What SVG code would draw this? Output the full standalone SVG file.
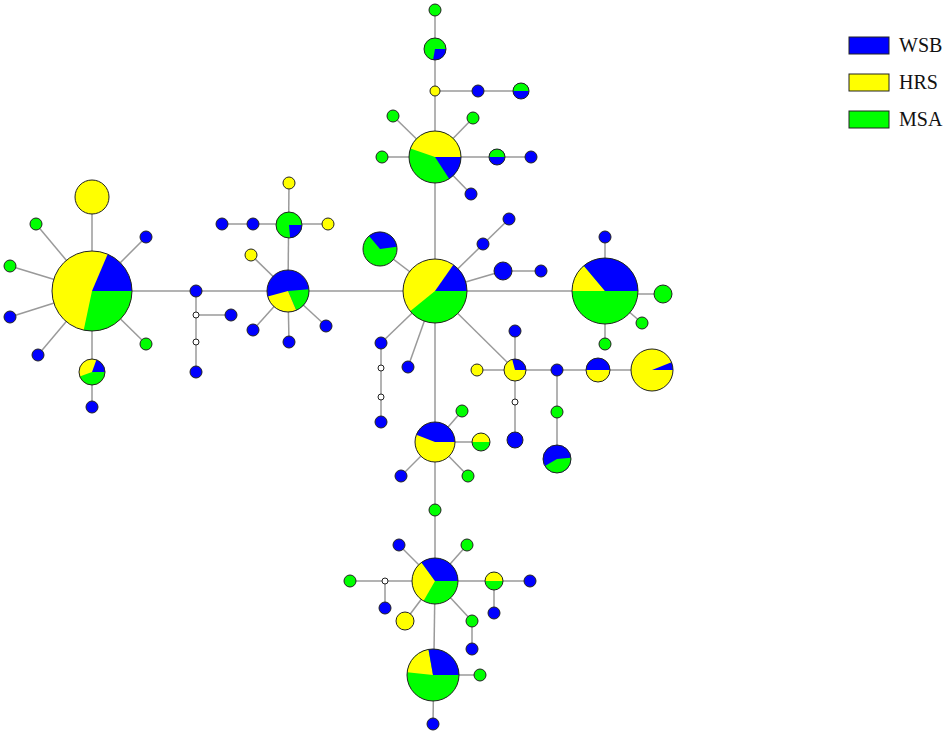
<svg xmlns="http://www.w3.org/2000/svg" width="950" height="737" viewBox="0 0 950 737">
<style>
.ln{stroke:#9a9a9a;stroke-width:1.5;fill:none}
.b{fill:#0000ff}
.y{fill:#ffff00}
.g{fill:#00ff00}
.w{fill:#ffffff}
.n{stroke:#222;stroke-width:1}
.o{fill:none;stroke:#222;stroke-width:1}
.t{font-family:"Liberation Serif","Times New Roman",serif;font-size:20px;fill:#111}
</style>
<rect width="950" height="737" fill="#ffffff"/>
<g id="connectors">
<line class="ln" x1="92" y1="291" x2="605" y2="291"/>
<line class="ln" x1="92" y1="291" x2="92" y2="197"/>
<line class="ln" x1="92" y1="291" x2="36" y2="224"/>
<line class="ln" x1="92" y1="291" x2="10" y2="266"/>
<line class="ln" x1="92" y1="291" x2="10" y2="317"/>
<line class="ln" x1="92" y1="291" x2="38" y2="355"/>
<line class="ln" x1="92" y1="291" x2="146" y2="237"/>
<line class="ln" x1="92" y1="291" x2="146" y2="344"/>
<line class="ln" x1="92" y1="291" x2="92" y2="407"/>
<line class="ln" x1="196" y1="291" x2="196" y2="372"/>
<line class="ln" x1="196" y1="315" x2="231" y2="315"/>
<line class="ln" x1="288" y1="291" x2="289" y2="183"/>
<line class="ln" x1="222" y1="224" x2="328" y2="224"/>
<line class="ln" x1="288" y1="291" x2="251" y2="255"/>
<line class="ln" x1="288" y1="291" x2="253" y2="330"/>
<line class="ln" x1="288" y1="291" x2="289" y2="342"/>
<line class="ln" x1="288" y1="291" x2="326" y2="326"/>
<line class="ln" x1="435" y1="10" x2="435" y2="581"/>
<line class="ln" x1="435" y1="581" x2="433" y2="724"/>
<line class="ln" x1="435" y1="91" x2="521" y2="91"/>
<line class="ln" x1="435" y1="157" x2="382" y2="157"/>
<line class="ln" x1="435" y1="157" x2="393" y2="116"/>
<line class="ln" x1="435" y1="157" x2="473" y2="118"/>
<line class="ln" x1="435" y1="157" x2="531" y2="157"/>
<line class="ln" x1="435" y1="157" x2="471" y2="194"/>
<line class="ln" x1="435" y1="291" x2="380" y2="249"/>
<line class="ln" x1="435" y1="291" x2="509" y2="219"/>
<line class="ln" x1="435" y1="291" x2="503" y2="271"/>
<line class="ln" x1="503" y1="271" x2="541" y2="271"/>
<line class="ln" x1="435" y1="291" x2="381" y2="343"/>
<line class="ln" x1="381" y1="343" x2="381" y2="422"/>
<line class="ln" x1="435" y1="291" x2="408" y2="367"/>
<line class="ln" x1="435" y1="291" x2="515" y2="370"/>
<line class="ln" x1="605" y1="291" x2="605" y2="237"/>
<line class="ln" x1="605" y1="294" x2="663" y2="294"/>
<line class="ln" x1="605" y1="291" x2="642" y2="323"/>
<line class="ln" x1="605" y1="291" x2="605" y2="344"/>
<line class="ln" x1="477" y1="370" x2="652" y2="370"/>
<line class="ln" x1="515" y1="331" x2="515" y2="440"/>
<line class="ln" x1="557" y1="370" x2="557" y2="459"/>
<line class="ln" x1="435" y1="442" x2="462" y2="411"/>
<line class="ln" x1="435" y1="442" x2="481" y2="442"/>
<line class="ln" x1="435" y1="442" x2="401" y2="476"/>
<line class="ln" x1="435" y1="442" x2="468" y2="476"/>
<line class="ln" x1="435" y1="581" x2="399" y2="545"/>
<line class="ln" x1="435" y1="581" x2="467" y2="545"/>
<line class="ln" x1="350" y1="581" x2="530" y2="581"/>
<line class="ln" x1="385" y1="581" x2="385" y2="608"/>
<line class="ln" x1="494" y1="581" x2="494" y2="613"/>
<line class="ln" x1="435" y1="581" x2="405" y2="621"/>
<line class="ln" x1="435" y1="581" x2="472" y2="621"/>
<line class="ln" x1="472" y1="621" x2="472" y2="649"/>
<line class="ln" x1="433" y1="675" x2="480" y2="675"/>
</g>
<g id="node-A">
<circle class="y" cx="92" cy="291" r="40"/>
<path class="b" d="M92,291 L107.63,254.18 A40,40 0 0 1 132,291 Z"/>
<path class="g" d="M92,291 L132,291 A40,40 0 0 1 83.68,330.13 Z"/>
<circle class="o" cx="92" cy="291" r="40"/>
</g>
<g id="node-A-top"><circle class="y n" cx="92" cy="197" r="17"/></g>
<g id="node-A1"><circle class="g n" cx="36" cy="224" r="6"/></g>
<g id="node-A2"><circle class="g n" cx="10" cy="266" r="6"/></g>
<g id="node-A3"><circle class="b n" cx="10" cy="317" r="6"/></g>
<g id="node-A4"><circle class="b n" cx="38" cy="355" r="6"/></g>
<g id="node-A5"><circle class="b n" cx="146" cy="237" r="6"/></g>
<g id="node-A6"><circle class="g n" cx="146" cy="344" r="6"/></g>
<g id="node-A-low">
<circle class="y" cx="92" cy="372" r="13"/>
<path class="b" d="M92,372 L96.45,359.78 A13,13 0 0 1 105,372 Z"/>
<path class="g" d="M92,372 L105,372 A13,13 0 0 1 79.78,376.45 Z"/>
<circle class="o" cx="92" cy="372" r="13"/>
</g>
<g id="node-A-low2"><circle class="b n" cx="92" cy="407" r="6"/></g>
<g id="node-L1"><circle class="b n" cx="196" cy="291" r="6"/></g>
<g id="node-L2"><circle class="w n" cx="196" cy="315" r="3"/></g>
<g id="node-L3"><circle class="b n" cx="231" cy="315" r="6"/></g>
<g id="node-L4"><circle class="w n" cx="196" cy="342" r="3"/></g>
<g id="node-L5"><circle class="b n" cx="196" cy="372" r="6"/></g>
<g id="node-B">
<circle class="b" cx="288" cy="291" r="21"/>
<path class="g" d="M288,291 L308.92,289.17 A21,21 0 0 1 296.2,310.33 Z"/>
<path class="y" d="M288,291 L296.2,310.33 A21,21 0 0 1 267.72,296.43 Z"/>
<circle class="o" cx="288" cy="291" r="21"/>
</g>
<g id="node-B-top">
<circle class="g" cx="289" cy="225" r="13"/>
<path class="b" d="M289,225 L302,225 A13,13 0 0 1 290.13,237.95 Z"/>
<circle class="o" cx="289" cy="225" r="13"/>
</g>
<g id="node-B1"><circle class="y n" cx="289" cy="183" r="6"/></g>
<g id="node-B2"><circle class="y n" cx="328" cy="224" r="6"/></g>
<g id="node-B3"><circle class="b n" cx="253" cy="224" r="6"/></g>
<g id="node-B4"><circle class="b n" cx="222" cy="224" r="6"/></g>
<g id="node-B5"><circle class="y n" cx="251" cy="255" r="6"/></g>
<g id="node-B6"><circle class="b n" cx="253" cy="330" r="6"/></g>
<g id="node-B7"><circle class="b n" cx="289" cy="342" r="6"/></g>
<g id="node-B8"><circle class="b n" cx="326" cy="326" r="6"/></g>
<g id="node-C">
<circle class="y" cx="435" cy="291" r="32"/>
<path class="b" d="M435,291 L453.35,264.79 A32,32 0 0 1 467,291 Z"/>
<path class="g" d="M435,291 L467,291 A32,32 0 0 1 410.13,311.14 Z"/>
<circle class="o" cx="435" cy="291" r="32"/>
</g>
<g id="node-E">
<circle class="g" cx="435" cy="157" r="26"/>
<path class="y" d="M435,157 L410.42,148.53 A26,26 0 0 1 461,157 Z"/>
<path class="b" d="M435,157 L461,157 A26,26 0 0 1 449.16,178.81 Z"/>
<circle class="o" cx="435" cy="157" r="26"/>
</g>
<g id="node-E1"><circle class="y n" cx="435" cy="91" r="5"/></g>
<g id="node-E2">
<circle class="g" cx="435" cy="49" r="11"/>
<path class="b" d="M435,49 L446,49 A11,11 0 0 1 433.09,59.83 Z"/>
<circle class="o" cx="435" cy="49" r="11"/>
</g>
<g id="node-E3"><circle class="g n" cx="435" cy="10" r="6"/></g>
<g id="node-E4"><circle class="b n" cx="478" cy="91" r="6"/></g>
<g id="node-E5">
<circle class="b" cx="521" cy="91" r="8"/>
<path class="g" d="M513,91 A8,8 0 0 1 529,91 Z"/>
<circle class="o" cx="521" cy="91" r="8"/>
</g>
<g id="node-E6"><circle class="g n" cx="382" cy="157" r="6"/></g>
<g id="node-E7"><circle class="g n" cx="393" cy="116" r="6"/></g>
<g id="node-E8"><circle class="g n" cx="473" cy="118" r="6"/></g>
<g id="node-E9">
<circle class="b" cx="497" cy="157" r="8"/>
<path class="g" d="M489,157 A8,8 0 0 1 505,157 Z"/>
<circle class="o" cx="497" cy="157" r="8"/>
</g>
<g id="node-E10"><circle class="b n" cx="531" cy="157" r="6"/></g>
<g id="node-E11"><circle class="b n" cx="471" cy="194" r="6"/></g>
<g id="node-C1">
<circle class="g" cx="380" cy="249" r="17"/>
<path class="b" d="M380,249 L369.07,235.98 A17,17 0 0 1 396.83,246.63 Z"/>
<circle class="o" cx="380" cy="249" r="17"/>
</g>
<g id="node-C2"><circle class="b n" cx="483" cy="244" r="6"/></g>
<g id="node-C3"><circle class="b n" cx="509" cy="219" r="6"/></g>
<g id="node-C4"><circle class="b n" cx="503" cy="271" r="9"/></g>
<g id="node-C5"><circle class="b n" cx="541" cy="271" r="6"/></g>
<g id="node-C6"><circle class="b n" cx="381" cy="343" r="6"/></g>
<g id="node-C7"><circle class="w n" cx="381" cy="368" r="3"/></g>
<g id="node-C8"><circle class="w n" cx="381" cy="397" r="3"/></g>
<g id="node-C9"><circle class="b n" cx="381" cy="422" r="6"/></g>
<g id="node-C10"><circle class="b n" cx="408" cy="367" r="6"/></g>
<g id="node-D">
<circle class="g" cx="605" cy="291" r="33"/>
<path class="y" d="M605,291 L572,291 A33,33 0 0 1 583.79,265.72 Z"/>
<path class="b" d="M605,291 L583.79,265.72 A33,33 0 0 1 638,291 Z"/>
<circle class="o" cx="605" cy="291" r="33"/>
</g>
<g id="node-D1"><circle class="b n" cx="605" cy="237" r="6"/></g>
<g id="node-D2"><circle class="g n" cx="663" cy="294" r="9"/></g>
<g id="node-D3"><circle class="g n" cx="642" cy="323" r="6"/></g>
<g id="node-D4"><circle class="g n" cx="605" cy="344" r="6"/></g>
<g id="node-F">
<circle class="y" cx="515" cy="370" r="11"/>
<path class="b" d="M515,370 L512.15,359.37 A11,11 0 0 1 526,370 Z"/>
<circle class="o" cx="515" cy="370" r="11"/>
</g>
<g id="node-F1"><circle class="b n" cx="515" cy="331" r="6"/></g>
<g id="node-F2"><circle class="y n" cx="477" cy="370" r="6"/></g>
<g id="node-F3"><circle class="w n" cx="515" cy="402" r="3"/></g>
<g id="node-F4"><circle class="b n" cx="515" cy="440" r="8"/></g>
<g id="node-F5"><circle class="b n" cx="557" cy="370" r="6"/></g>
<g id="node-F6">
<circle class="y" cx="598" cy="370" r="12"/>
<path class="b" d="M586,370 A12,12 0 0 1 610,370 Z"/>
<circle class="o" cx="598" cy="370" r="12"/>
</g>
<g id="node-F7">
<circle class="y" cx="652" cy="370" r="21"/>
<path class="b" d="M652,370 L671.47,362.13 A21,21 0 0 1 673,370 Z"/>
<circle class="o" cx="652" cy="370" r="21"/>
</g>
<g id="node-F8"><circle class="g n" cx="557" cy="412" r="6"/></g>
<g id="node-F9">
<circle class="b" cx="557" cy="459" r="14"/>
<path class="g" d="M557,459 L570.95,457.78 A14,14 0 0 1 544.88,466 Z"/>
<circle class="o" cx="557" cy="459" r="14"/>
</g>
<g id="node-G">
<circle class="y" cx="435" cy="442" r="20"/>
<path class="b" d="M435,442 L416.33,434.83 A20,20 0 0 1 455,442 Z"/>
<circle class="o" cx="435" cy="442" r="20"/>
</g>
<g id="node-G1"><circle class="g n" cx="462" cy="411" r="6"/></g>
<g id="node-G2">
<circle class="g" cx="481" cy="442" r="9"/>
<path class="y" d="M472,442 A9,9 0 0 1 490,442 Z"/>
<circle class="o" cx="481" cy="442" r="9"/>
</g>
<g id="node-G3"><circle class="b n" cx="401" cy="476" r="6"/></g>
<g id="node-G4"><circle class="g n" cx="468" cy="476" r="6"/></g>
<g id="node-G5"><circle class="g n" cx="435" cy="510" r="6"/></g>
<g id="node-H">
<circle class="g" cx="435" cy="581" r="23"/>
<path class="y" d="M435,581 L423.5,600.92 A23,23 0 0 1 421.48,562.39 Z"/>
<path class="b" d="M435,581 L421.48,562.39 A23,23 0 0 1 458,581 Z"/>
<circle class="o" cx="435" cy="581" r="23"/>
</g>
<g id="node-H1"><circle class="b n" cx="399" cy="545" r="6"/></g>
<g id="node-H2"><circle class="g n" cx="467" cy="545" r="6"/></g>
<g id="node-H3"><circle class="w n" cx="385" cy="581" r="3"/></g>
<g id="node-H4"><circle class="g n" cx="350" cy="581" r="6"/></g>
<g id="node-H5"><circle class="b n" cx="385" cy="608" r="6"/></g>
<g id="node-H6">
<circle class="g" cx="494" cy="581" r="9"/>
<path class="y" d="M485,581 A9,9 0 0 1 503,581 Z"/>
<circle class="o" cx="494" cy="581" r="9"/>
</g>
<g id="node-H7"><circle class="b n" cx="530" cy="581" r="6"/></g>
<g id="node-H8"><circle class="b n" cx="494" cy="613" r="6"/></g>
<g id="node-H9"><circle class="y n" cx="405" cy="621" r="9"/></g>
<g id="node-H10"><circle class="g n" cx="472" cy="621" r="6"/></g>
<g id="node-H11"><circle class="b n" cx="472" cy="649" r="6"/></g>
<g id="node-I">
<circle class="g" cx="433" cy="675" r="26"/>
<path class="y" d="M433,675 L407.14,672.28 A26,26 0 0 1 428.49,649.4 Z"/>
<path class="b" d="M433,675 L428.49,649.4 A26,26 0 0 1 459,675 Z"/>
<circle class="o" cx="433" cy="675" r="26"/>
</g>
<g id="node-I1"><circle class="g n" cx="480" cy="675" r="6"/></g>
<g id="node-I2"><circle class="b n" cx="433" cy="724" r="6"/></g>
<g id="legend">
<rect class="b n" x="849" y="37" width="40" height="17"/>
<text class="t" x="899" y="52">WSB</text>
<rect class="y n" x="849" y="74" width="40" height="17"/>
<text class="t" x="899" y="89">HRS</text>
<rect class="g n" x="849" y="111" width="40" height="17"/>
<text class="t" x="899" y="126">MSA</text>
</g>
</svg>
